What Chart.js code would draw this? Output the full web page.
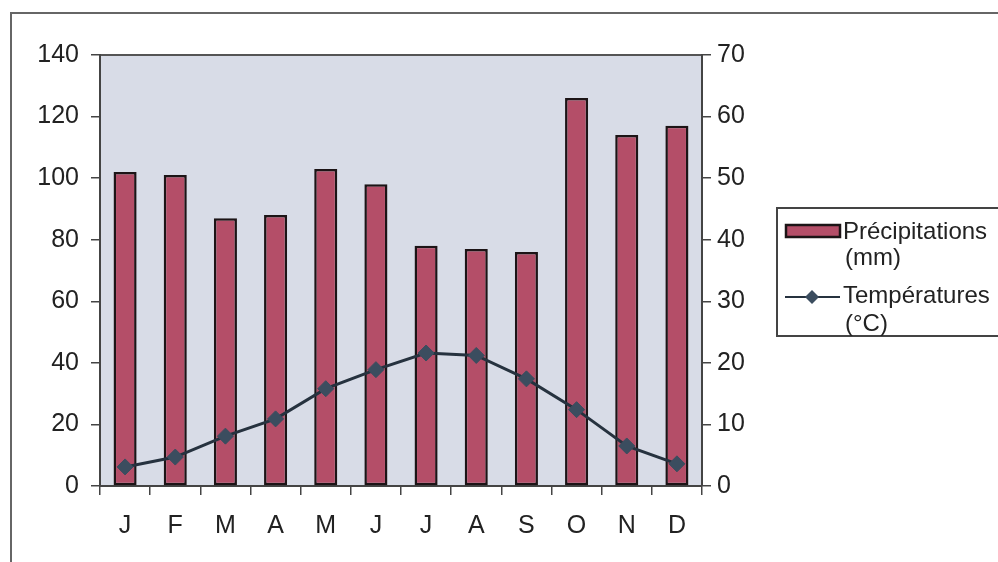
<!DOCTYPE html>
<html>
<head>
<meta charset="utf-8">
<script src="https://cdn.jsdelivr.net/npm/chart.js@4.4.0/dist/chart.umd.min.js"></script>
<style>
  html, body { margin: 0; padding: 0; background: #fff; }
  #wrap { width: 998px; height: 562px; position: relative; }
</style>
</head>
<body>
<div id="wrap"><canvas id="climate-chart" width="998" height="562"></canvas></div>
<script>
// month labels
var months = ['J', 'F', 'M', 'A', 'M', 'J', 'J', 'A', 'S', 'O', 'N', 'D'];
// rainfall in mm (left axis)
var precipitations = [102, 101, 87, 88, 103, 98, 78, 77, 76, 126, 114, 117];
// temperature in °C (right axis)
var temperatures = [3.1, 4.7, 8.1, 10.9, 15.8, 18.9, 21.6, 21.2, 17.4, 12.4, 6.5, 3.6];
var precipLabel = ['Précipitations', '(mm)'];
var tempLabel = ['Températures', '(°C)'];

var font = 'Liberation Sans, Arial, sans-serif';
var textColor = '#222';

// plot background + border, outer frame
var backdrop = {
    id: 'backdrop',
    beforeDraw: function (chart) {
        var ctx = chart.ctx, a = chart.chartArea;
        ctx.save();
        ctx.fillStyle = '#fff';
        ctx.fillRect(0, 0, chart.width, chart.height);
        ctx.strokeStyle = '#666';
        ctx.lineWidth = 2;
        ctx.strokeRect(11, 13, chart.width + 20, chart.height + 20);
        ctx.fillStyle = '#d8dce7';
        ctx.fillRect(a.left, a.top, a.right - a.left, a.bottom - a.top);
        ctx.strokeStyle = '#555';
        ctx.lineWidth = 2;
        ctx.beginPath();
        ctx.moveTo(a.left, a.top);
        ctx.lineTo(a.right, a.top);
        ctx.stroke();
        ctx.restore();
    }
};

// legend box on the right
var legendBox = {
    id: 'legendBox',
    afterDraw: function (chart) {
        var ctx = chart.ctx;
        var sets = chart.data.datasets;
        var bar = sets.filter(function (d) { return d.type === 'bar'; })[0];
        var line = sets.filter(function (d) { return d.type === 'line'; })[0];
        ctx.save();
        ctx.strokeStyle = '#444';
        ctx.lineWidth = 2;
        ctx.strokeRect(777, 208, 240, 128);
        // bar swatch
        ctx.fillStyle = bar.backgroundColor;
        ctx.fillRect(786, 225, 54, 12);
        ctx.strokeStyle = bar.borderColor;
        ctx.lineWidth = 2.5;
        ctx.strokeRect(786, 225, 54, 12);
        // line swatch
        ctx.strokeStyle = line.borderColor;
        ctx.lineWidth = 2;
        ctx.beginPath();
        ctx.moveTo(785, 297);
        ctx.lineTo(840, 297);
        ctx.stroke();
        ctx.fillStyle = line.pointBackgroundColor;
        ctx.beginPath();
        ctx.moveTo(812, 290);
        ctx.lineTo(819, 297);
        ctx.lineTo(812, 304);
        ctx.lineTo(805, 297);
        ctx.closePath();
        ctx.fill();
        // texts
        ctx.fillStyle = textColor;
        ctx.font = '24px ' + font;
        ctx.textBaseline = 'middle';
        ctx.textAlign = 'left';
        ctx.fillText(bar.label[0], 843, 232);
        ctx.fillText(bar.label[1], 845, 258);
        ctx.fillText(line.label[0], 843, 296);
        ctx.fillText(line.label[1], 845, 324);
        ctx.restore();
    }
};

var chartCanvas = document.getElementById('climate-chart');
var chart = new Chart(chartCanvas, {
    data: {
        labels: months,
        datasets: [{
            type: 'line',
            label: tempLabel,
            data: temperatures,
            yAxisID: 'y1',
            borderColor: '#26323f',
            borderWidth: 3,
            pointStyle: 'rectRot',
            pointRadius: 8,
            pointBackgroundColor: '#3b4d5f',
            pointBorderColor: '#3b4d5f',
            pointBorderWidth: 1,
            tension: 0,
            order: 0
        }, {
            type: 'bar',
            label: precipLabel,
            data: precipitations,
            yAxisID: 'y',
            backgroundColor: '#b44e68',
            borderColor: '#1c1416',
            borderWidth: 2.5,
            borderSkipped: false,
            barPercentage: 0.46,
            categoryPercentage: 1,
            order: 1
        }]
    },
    options: {
        responsive: false,
        animation: false,
        layout: { padding: { left: 0, right: 0, top: 55, bottom: 0 } },
        plugins: {
            legend: { display: false },
            tooltip: { enabled: false }
        },
        scales: {
            x: {
                offset: true,
                grid: { display: true, offset: true, drawOnChartArea: false, drawTicks: true, tickLength: 9, color: '#444', lineWidth: 1.5 },
                border: { display: true, color: '#444', width: 2 },
                ticks: { color: textColor, font: { family: font, size: 25 }, padding: 16 },
                afterFit: function (scale) { scale.height = 76; }
            },
            y: {
                position: 'left',
                min: 0, max: 140,
                ticks: { stepSize: 20, color: textColor, font: { family: font, size: 25 }, padding: 12 },
                grid: { display: true, drawOnChartArea: false, drawTicks: true, tickLength: 9, color: '#444', lineWidth: 1.5 },
                border: { display: true, color: '#444', width: 2 },
                afterFit: function (scale) { scale.width = 100; }
            },
            y1: {
                position: 'right',
                min: 0, max: 70,
                ticks: { stepSize: 10, color: textColor, font: { family: font, size: 25 }, padding: 6 },
                grid: { display: true, drawOnChartArea: false, drawTicks: true, tickLength: 9, color: '#444', lineWidth: 1.5 },
                border: { display: true, color: '#444', width: 2 },
                afterFit: function (scale) { scale.width = 296; }
            }
        }
    },
    plugins: [backdrop, legendBox]
});
</script>
</body>
</html>
